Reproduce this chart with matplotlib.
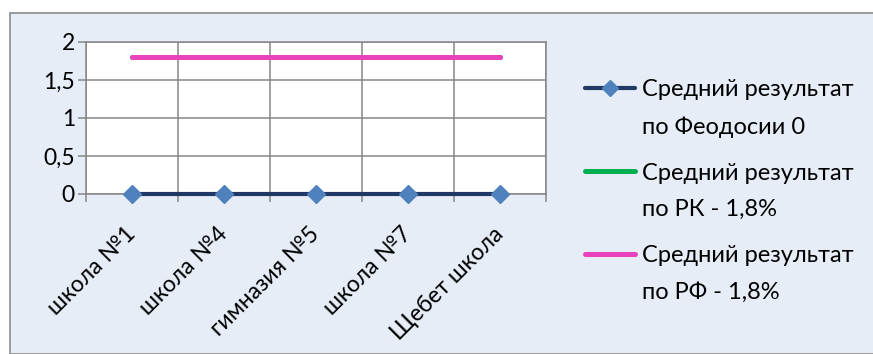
import matplotlib
matplotlib.use("Agg")
import matplotlib.pyplot as plt
from matplotlib.patches import Rectangle
from matplotlib.lines import Line2D
from matplotlib.transforms import ScaledTranslation
from matplotlib.offsetbox import (DrawingArea, TextArea, HPacker, VPacker,
                                  AnchoredOffsetbox)

plt.rcParams['font.family'] = ['Lato', 'DejaVu Sans']

schools = ["школа №1", "школа №4", "гимназия №5", "школа №7", "Щебет школа"]
feodosia = [0, 0, 0, 0, 0]
rk = [1.8, 1.8, 1.8, 1.8, 1.8]
rf = [1.8, 1.8, 1.8, 1.8, 1.8]
series_labels = [
    "Средний результат\nпо Феодосии 0",
    "Средний результат\nпо РК - 1,8%",
    "Средний результат\nпо РФ - 1,8%",
]
y_ticks = [0, 0.5, 1, 1.5, 2]
y_tick_labels = ["0", "0,5", "1", "1,5", "2"]

W, H = 873, 354
FS = 16.5
LEG_FS = 17
fig = plt.figure(figsize=(W / 100, H / 100), dpi=100)
fig.patch.set_facecolor("white")

# chart area frame
bg = Rectangle((10 / W, 0), 1.2, 1 - 13 / H, transform=fig.transFigure,
               facecolor="#E6EDF7", edgecolor="#8C8C8C", linewidth=1.2,
               zorder=-10)
fig.patches.append(bg)

ax = fig.add_axes([86 / W, 1 - 194 / H, (546 - 86) / W, (194 - 42) / H])
ax.set_facecolor("white")

x = list(range(len(schools)))
grid_c = "#868686"

line_styles = [
    dict(color="#1F3864", lw=3.0),
    dict(color="#00B050", lw=3.6),
    dict(color="#EA41BE", lw=3.6),
]
marker_styles = [
    dict(marker="D", markerfacecolor="#4F81BD", markeredgecolor="#4F81BD"),
    None,
    None,
]

ax.plot(x, rk, zorder=3, solid_capstyle="round", **line_styles[1])
ax.plot(x, rf, zorder=4, solid_capstyle="round", **line_styles[2])
ax.plot(x, feodosia, zorder=5, clip_on=False, solid_capstyle="butt",
        markersize=9.5, **line_styles[0], **marker_styles[0])

ax.set_xlim(-0.5, len(schools) - 0.5)
ax.set_ylim(0, 2)

ax.set_yticks(y_ticks)
ax.set_yticklabels(y_tick_labels)
ax.set_xticks([i - 0.5 for i in range(len(schools) + 1)])
ax.set_xticklabels([])
ax.set_xticks(x, minor=True)
ax.set_xticklabels(schools, minor=True, rotation=45, ha="right", va="top",
                   rotation_mode="anchor")
ax.tick_params(axis="x", which="minor", length=0, pad=19, labelsize=FS)
ax.tick_params(axis="x", which="major", length=6, width=1.1, color=grid_c)
ax.tick_params(axis="y", length=6, width=1.1, color=grid_c, pad=2,
               labelsize=FS)

# nudge the slanted category labels a little to the left
shift = ScaledTranslation(-7 / 100, -3 / 100, fig.dpi_scale_trans)
for tick in ax.xaxis.get_minor_ticks():
    tick.label1.set_transform(tick.label1.get_transform() + shift)

ax.grid(True, which="major", color=grid_c, lw=1.1)
ax.set_axisbelow(True)
for s in ax.spines.values():
    s.set_color(grid_c)
    s.set_linewidth(1.1)

# legend: handle aligned with the first line of each two-line label
line_h = LEG_FS * 1.25
yc = line_h / 2 + 4.5
rows = []
for ls, ms, lab in zip(line_styles, marker_styles, series_labels):
    da = DrawingArea(40, line_h, 0, 0)
    da.add_artist(Line2D([2, 38], [yc, yc], solid_capstyle="round", **ls))
    if ms is not None:
        da.add_artist(Line2D([20], [yc], linestyle="none", markersize=8.5,
                             **ms))
    ta = TextArea(lab, textprops=dict(fontsize=LEG_FS, linespacing=1.92,
                                      color="black"))
    rows.append(HPacker(children=[da, ta], align="top", pad=0, sep=3))
box = VPacker(children=rows, align="left", pad=0, sep=18)
anch = AnchoredOffsetbox(loc="upper left", child=box, pad=0, borderpad=0,
                         frameon=False, bbox_to_anchor=(582 / W, 1 - 79 / H),
                         bbox_transform=fig.transFigure)
fig.add_artist(anch)

fig.savefig("out.png", dpi=100, facecolor=fig.get_facecolor())
